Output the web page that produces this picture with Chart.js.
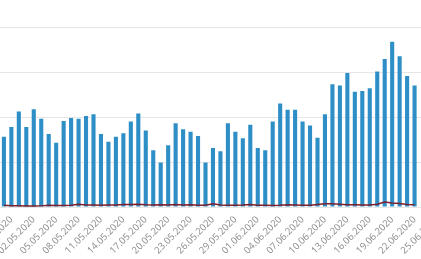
<!DOCTYPE html>
<html>
<head>
<meta charset="utf-8">
<script src="https://cdn.jsdelivr.net/npm/chart.js@4.4.1/dist/chart.umd.min.js"></script>
<style>
  html, body { margin: 0; padding: 0; background: #ffffff; overflow: hidden; }
  body { width: 421px; height: 259px; position: relative; }
  #wrap { position: absolute; left: -3px; top: 0; width: 455px; height: 259px; }
</style>
</head>
<body>
<div id="wrap"><canvas id="c"></canvas></div>
<script>
const categories = [
  "28.04.2020","29.04.2020","30.04.2020","01.05.2020","02.05.2020","03.05.2020","04.05.2020",
  "05.05.2020","06.05.2020","07.05.2020","08.05.2020","09.05.2020","10.05.2020","11.05.2020",
  "12.05.2020","13.05.2020","14.05.2020","15.05.2020","16.05.2020","17.05.2020","18.05.2020",
  "19.05.2020","20.05.2020","21.05.2020","22.05.2020","23.05.2020","24.05.2020","25.05.2020",
  "26.05.2020","27.05.2020","28.05.2020","29.05.2020","30.05.2020","31.05.2020","01.06.2020",
  "02.06.2020","03.06.2020","04.06.2020","05.06.2020","06.06.2020","07.06.2020","08.06.2020",
  "09.06.2020","10.06.2020","11.06.2020","12.06.2020","13.06.2020","14.06.2020","15.06.2020",
  "16.06.2020","17.06.2020","18.06.2020","19.06.2020","20.06.2020","21.06.2020","22.06.2020",
  "23.06.2020","24.06.2020","25.06.2020"
];

const barValues = [
  1560, 1780, 2120, 1780, 2170, 1960, 1620, 1430, 1910, 1980,
  1960, 2020, 2060, 1620, 1450, 1560, 1640, 1900, 2080, 1700,
  1260, 990, 1370, 1860, 1730, 1670, 1580, 990, 1310, 1240,
  1860, 1670, 1530, 1830, 1310, 1260, 1900, 2300, 2160, 2160,
  1900, 1810, 1540, 2060, 2730, 2700, 2980, 2560, 2580, 2640,
  3010, 3290, 3670, 3350, 2910, 2700,
  null, null, null
];

const lineValues = [
  40, 30, 30, 20, 20, 25, 40, 35, 35, 40,
  60, 45, 45, 40, 45, 45, 55, 55, 60, 50,
  45, 50, 45, 55, 45, 50, 40, 40, 70, 45,
  40, 40, 45, 55, 40, 40, 35, 40, 50, 45,
  40, 40, 55, 70, 70, 60, 50, 50, 45, 45,
  60, 110, 90, 80, 55, 50,
  null, null, null
];

const yMin = 0, yMax = 4000, yStep = 1000;

new Chart(document.getElementById('c'), {
  data: {
    labels: categories,
    datasets: [
      {
        type: 'line',
        data: lineValues,
        borderColor: '#7d1f2e',
        borderWidth: 1.5,
        pointRadius: 0,
        tension: 0,
        order: 0
      },
      {
        type: 'bar',
        data: barValues,
        backgroundColor: '#2d8fc6',
        barPercentage: 0.55,
        categoryPercentage: 1.0,
        order: 1
      }
    ]
  },
  options: {
    responsive: true,
    maintainAspectRatio: false,
    animation: false,
    layout: { padding: { top: 27, left: 0, right: 0, bottom: 0 } },
    plugins: { legend: { display: false }, tooltip: { enabled: false } },
    scales: {
      x: {
        offset: true,
        grid: { display: false, drawTicks: false },
        border: { display: false },
        afterFit: (s) => { s.height = 52; },
        ticks: {
          autoSkip: false,
          maxRotation: 45,
          minRotation: 45,
          padding: 7,
          color: '#8a8a8a',
          font: { family: 'Open Sans', size: 9.5 },
          callback: function(value, index) {
            return (index - 1) % 3 === 0 ? categories[index] : '';
          }
        }
      },
      y: {
        min: yMin, max: yMax,
        grid: { color: '#e6e6e6', lineWidth: 1, drawTicks: false },
        border: { display: false },
        afterFit: (s) => { s.width = 0; },
        ticks: { display: false, stepSize: yStep }
      }
    }
  }
});
</script>
</body>
</html>
